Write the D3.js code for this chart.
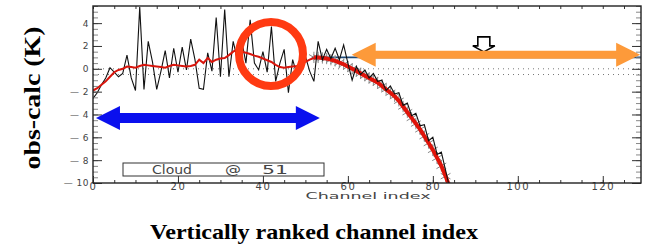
<!DOCTYPE html>
<html>
<head>
<meta charset="utf-8">
<script src="https://cdn.jsdelivr.net/npm/d3@7"></script>
<style>
  html, body { margin: 0; padding: 0; background: #fff; }
  svg { display: block; }
</style>
</head>
<body>
<svg id="chart" width="654" height="246"></svg>
<script>
// ---- data ----
const xTicks = [0, 20, 40, 60, 80, 100, 120];
const yTicks = [4, 2, 0, -2, -4, -6, -8, -10];

// obs-calc per channel (channel = index)
const obsValues = [
  -2.6, -2.1, -1.4, -0.8, 0.1, -0.3, -0.7, -0.4, 1.2, -0.8,
  -1.9, 5.4, -1.8, 2.4, 0.6, -1.8, -0.2, 1.6, -0.8, 1.8,
  -0.3, 1.9, -0.1, 2.6, 0.8, -1.7, -1.8, 1.4, -0.2, 4.5,
  -0.7, 5.2, -0.7, 2.4, 0.8, 2.5, 0.5, 4.3, 0.5, -0.1,
  1.5, -0.3, 3.7, -1.1, 0.5, 1.7, -2.1, 0.8, -0.5, 0.4,
  1.1, -0.2, -1.1, 2.4, 0.8, 1.7, 0.9, 1.8, 0.8, 2.1,
  0.5, -1.0, 0.2, -0.5, -0.1, -0.8, -0.4, -1.1, -1.0, -1.9,
  -1.5, -2.2, -2.1, -3.2, -3.0, -4.1, -3.9, -5.0, -4.9, -6.3,
  -6.0, -7.5, -7.3, -8.9, -10.5
];

// smoothed (red) line, channels 0..52
const smoothValues = [
  -1.9, -1.7, -1.4, -1.1, -0.7, -0.3, -0.1, 0.0, 0.2, 0.15,
  0.1, 0.25, 0.35, 0.3, 0.25, 0.2, 0.15, 0.1, 0.25, 0.35,
  0.3, 0.25, 0.2, 0.25, 0.35, 0.8, 0.5, 0.95, 0.6, 0.8,
  0.9, 0.95, 1.2, 1.5, 1.7, 1.5, 1.4, 1.3, 1.15, 1.05,
  0.9, 0.75, 0.6, 0.35, 0.15, 0.1, 0.15, 0.2, 0.25, 0.4,
  0.6, 0.8, 0.95
];

// cloud-affected curve (asterisks), channels 52..84
const curveStart = 52;
const curveValues = [
  1.0, 1.0, 0.95, 0.9, 0.8, 0.7, 0.55, 0.4, 0.2, 0.0,
  -0.2, -0.4, -0.6, -0.8, -1.0, -1.2, -1.5, -1.8, -2.1, -2.4,
  -2.8, -3.3, -3.8, -4.3, -4.8, -5.3, -5.9, -6.5, -7.1, -7.8,
  -8.5, -9.4, -10.4
];

const refLine = [[51.5, 1.0], [129, 1.0]];
const dottedLevels = [0, -0.5];
const cloudLabel = ["Cloud", "@", "51"];

// ---- layout ----
const svg = d3.select("#chart");
const pLeft = 93, pRight = 641, pTop = 6, pBottom = 183;

const x = d3.scaleLinear().domain([0, 129]).range([pLeft, pRight]);
const y = d3.scaleLinear().domain([-10, 5.5]).range([pBottom, pTop]);

svg.append("defs").append("clipPath").attr("id", "plotclip")
  .append("rect")
    .attr("x", pLeft).attr("y", pTop)
    .attr("width", pRight - pLeft).attr("height", pBottom - pTop);

const plot = svg.append("g").attr("clip-path", "url(#plotclip)");

// dotted reference lines
dottedLevels.forEach(v => {
  plot.append("line")
    .attr("x1", x(0)).attr("x2", x(129))
    .attr("y1", y(v)).attr("y2", y(v))
    .attr("stroke", "#777")
    .attr("stroke-width", 1)
    .attr("stroke-dasharray", "1,4");
});

const line = d3.line().x(d => x(d[0])).y(d => y(d[1]));

// navy level line
plot.append("path")
  .attr("d", line(refLine))
  .attr("fill", "none")
  .attr("stroke", "#1d4a78")
  .attr("stroke-width", 1.6);

const curveData = curveValues.map((v, i) => [curveStart + i, v]);

// asterisks
const star = d3.symbol().type(d3.symbolAsterisk).size(90);
plot.selectAll(".ast")
  .data(curveData)
  .join("path")
    .attr("class", "ast")
    .attr("transform", d => `translate(${x(d[0])},${y(d[1])})`)
    .attr("d", star)
    .attr("fill", "none")
    .attr("stroke", "#888")
    .attr("stroke-width", 1);

// thick red along the curve
plot.append("path")
  .attr("d", line(curveData))
  .attr("fill", "none")
  .attr("stroke", "#e0140a")
  .attr("stroke-width", 4);

// obs-calc black line
plot.append("path")
  .attr("d", line(obsValues.map((v, i) => [i, v])))
  .attr("fill", "none")
  .attr("stroke", "#111")
  .attr("stroke-width", 1.1);

// smoothed red line
plot.append("path")
  .attr("d", line(smoothValues.map((v, i) => [i, v])))
  .attr("fill", "none")
  .attr("stroke", "#d8150c")
  .attr("stroke-width", 2);

// ---- axes ----
const axisFont = g => g.selectAll("text")
  .attr("fill", "#444")
  .attr("font-family", "DejaVu Sans, sans-serif")
  .attr("font-size", 10)
  .attr("letter-spacing", 1.5);

const plainAxis = g => {
  g.select(".domain").remove();
  g.selectAll("line").attr("stroke", "#333");
};

// bottom
svg.append("g").attr("transform", `translate(0,${pBottom})`)
  .call(d3.axisBottom(x).tickValues(d3.range(0, 130, 5)).tickSize(-3).tickFormat(""))
  .call(plainAxis);
svg.append("g").attr("transform", `translate(0,${pBottom})`)
  .call(d3.axisBottom(x).tickValues(xTicks).tickSize(-7).tickPadding(0))
  .call(plainAxis)
  .call(axisFont);
// top
svg.append("g").attr("transform", `translate(0,${pTop})`)
  .call(d3.axisTop(x).tickValues(d3.range(0, 130, 5)).tickSize(-3).tickFormat(""))
  .call(plainAxis);

const yMinor = d3.range(-10, 5.6, 0.5);
// left
svg.append("g").attr("transform", `translate(${pLeft},0)`)
  .call(d3.axisLeft(y).tickValues(yMinor).tickSize(-5).tickFormat(""))
  .call(plainAxis)
  .call(g => g.selectAll("line").attr("stroke", "#888"));
svg.append("g").attr("transform", `translate(${pLeft},0)`)
  .call(d3.axisLeft(y).tickValues(yTicks).tickSize(-9).tickPadding(4)
    .tickFormat(d => d < 0 ? "\u2014 " + Math.abs(d) : d))
  .call(plainAxis)
  .call(axisFont)
  .call(g => g.selectAll("text").attr("letter-spacing", 0.5).attr("font-size", 9));
// right
svg.append("g").attr("transform", `translate(${pRight},0)`)
  .call(d3.axisRight(y).tickValues(yMinor).tickSize(-5).tickFormat(""))
  .call(plainAxis)
  .call(g => g.selectAll("line").attr("stroke", "#888"));
svg.append("g").attr("transform", `translate(${pRight},0)`)
  .call(d3.axisRight(y).tickValues(yTicks).tickSize(-9).tickFormat(""))
  .call(plainAxis);

// frame
svg.append("rect")
  .attr("x", pLeft).attr("y", pTop)
  .attr("width", pRight - pLeft).attr("height", pBottom - pTop)
  .attr("fill", "none")
  .attr("stroke", "#222")
  .attr("stroke-width", 1.4);

svg.append("text")
  .attr("x", 368).attr("y", 199)
  .attr("text-anchor", "middle")
  .attr("font-family", "DejaVu Sans, sans-serif")
  .attr("font-size", 9)
  .attr("fill", "#444")
  .attr("textLength", 125)
  .attr("lengthAdjust", "spacingAndGlyphs")
  .text("Channel index");

// cloud box
svg.append("rect")
  .attr("x", 123).attr("y", 163)
  .attr("width", 201).attr("height", 13)
  .attr("fill", "#fff")
  .attr("stroke", "#333")
  .attr("stroke-width", 1);
const cloudX = [152, 225, 262];
const cloudW = [40, 16, 26];
cloudLabel.forEach((t, i) => {
  svg.append("text")
    .attr("x", cloudX[i]).attr("y", 174)
    .attr("font-family", "DejaVu Sans, sans-serif")
    .attr("font-size", 12)
    .attr("fill", "#444")
    .attr("textLength", cloudW[i])
    .attr("lengthAdjust", "spacingAndGlyphs")
    .text(t);
});

// ---- annotations ----
function doubleArrow(x1, x2, cy, shaft, headL, headH, color) {
  const s = shaft / 2;
  const pts = [
    [x1, cy], [x1 + headL, cy - headH], [x1 + headL, cy - s],
    [x2 - headL, cy - s], [x2 - headL, cy - headH], [x2, cy],
    [x2 - headL, cy + headH], [x2 - headL, cy + s],
    [x1 + headL, cy + s], [x1 + headL, cy + headH]
  ];
  svg.append("path")
    .attr("d", d3.line()(pts) + "Z")
    .attr("fill", color);
}

// hollow down arrow
const hx = x(92), hy = y(2.8);
svg.append("path")
  .attr("d", d3.line()([
    [hx - 6, hy], [hx + 6, hy], [hx + 6, hy + 9], [hx + 11, hy + 9],
    [hx, hy + 15], [hx - 11, hy + 9], [hx - 6, hy + 9]
  ]) + "Z")
  .attr("fill", "#fff")
  .attr("stroke", "#000")
  .attr("stroke-width", 1.6);

doubleArrow(x(0.7), x(53.4), y(-4.3), 10, 24, 12, "#0a10ee");
doubleArrow(x(60.9), x(128.8), y(1.23), 8, 24, 12, "#fd9a3a");

svg.append("circle")
  .attr("cx", x(41.9)).attr("cy", y(1.3))
  .attr("r", 32)
  .attr("fill", "none")
  .attr("stroke", "#ff3a12")
  .attr("stroke-width", 8);

// ---- outer titles ----
svg.append("text")
  .attr("transform", "translate(40,98) rotate(-90)")
  .attr("text-anchor", "middle")
  .attr("font-family", "Liberation Serif, Times New Roman, serif")
  .attr("font-weight", "bold")
  .attr("font-size", 23)
  .attr("textLength", 143)
  .attr("lengthAdjust", "spacingAndGlyphs")
  .text("obs-calc (K)");

svg.append("text")
  .attr("x", 314).attr("y", 239)
  .attr("text-anchor", "middle")
  .attr("font-family", "Liberation Serif, Times New Roman, serif")
  .attr("font-weight", "bold")
  .attr("font-size", 21)
  .attr("textLength", 328)
  .attr("lengthAdjust", "spacingAndGlyphs")
  .text("Vertically ranked channel index");
</script>
</body>
</html>
